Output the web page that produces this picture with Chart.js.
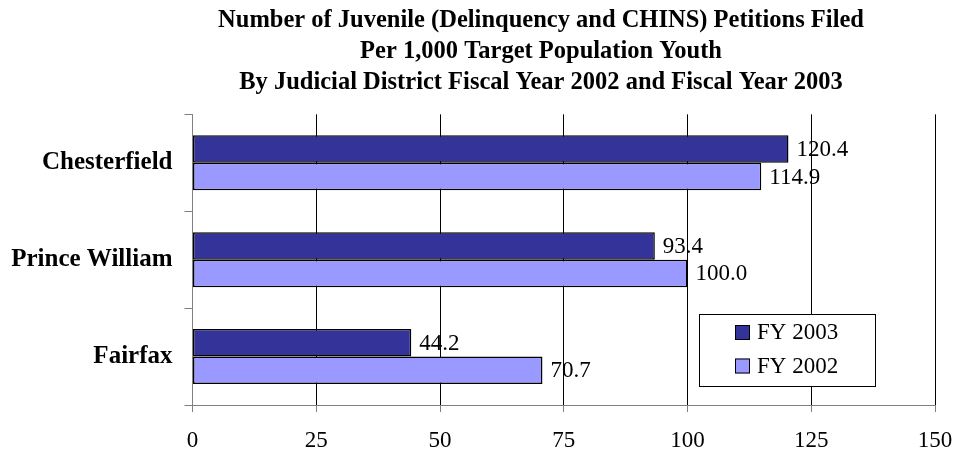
<!DOCTYPE html>
<html>
<head>
<meta charset="utf-8">
<script src="https://cdn.jsdelivr.net/npm/chart.js@4/dist/chart.umd.min.js"></script>
<style>
  body { margin: 0; background: #fff; }
  canvas { display: block; }
</style>
</head>
<body>
<canvas id="chartContainer" width="959" height="450"></canvas>
<script>
var districts = ["Chesterfield", "Prince William", "Fairfax"];
var fy2003 = [120.4, 93.4, 44.2];
var fy2002 = [114.9, 100.0, 70.7];
var seriesNames = ["FY 2003", "FY 2002"];
var titleLines = [
    "Number of Juvenile (Delinquency and CHINS) Petitions Filed",
    "Per 1,000 Target Population Youth",
    "By Judicial District Fiscal Year 2002 and Fiscal Year 2003"
];

var serif = "'Liberation Serif', 'Times New Roman', serif";
var barColors = ["#333399", "#9999FF"];

// the category axis is kept narrow so the title centres further right;
// widen its label clip box back out to the canvas edge
var wideCategoryLabels = {
    id: 'wideCategoryLabels',
    afterLayout: function(chart) {
        chart.scales.y.left = 0;
    }
};

// value printed just past the end of every bar
var valueLabels = {
    id: 'valueLabels',
    afterDatasetsDraw: function(chart) {
        var ctx = chart.ctx;
        ctx.save();
        ctx.font = "23px " + serif;
        ctx.fillStyle = "#000";
        ctx.textAlign = "left";
        ctx.textBaseline = "middle";
        chart.data.datasets.forEach(function(ds, i) {
            chart.getDatasetMeta(i).data.forEach(function(bar, j) {
                ctx.fillText(ds.data[j].toFixed(1), bar.x + 8, bar.y + 1);
            });
        });
        ctx.restore();
    }
};

// boxed legend sitting inside the plot, lower right
var boxLegend = {
    id: 'boxLegend',
    afterDraw: function(chart) {
        var ctx = chart.ctx;
        var area = chart.chartArea;
        var w = 176, h = 72;
        var x = area.right - 60 - w;
        var y = area.bottom - 19 - h;
        ctx.save();
        ctx.fillStyle = "#fff";
        ctx.fillRect(x, y, w, h);
        ctx.strokeStyle = "#000";
        ctx.lineWidth = 1;
        ctx.strokeRect(x + 0.5, y + 0.5, w, h);
        ctx.font = "23px " + serif;
        ctx.textBaseline = "middle";
        chart.data.datasets.forEach(function(ds, i) {
            var cy = y + 18 + i * 33.5;
            ctx.fillStyle = ds.backgroundColor;
            ctx.fillRect(x + 36, cy - 7, 15, 15);
            ctx.strokeStyle = "#000";
            ctx.strokeRect(x + 36.5, cy - 6.5, 14, 14);
            ctx.fillStyle = "#000";
            ctx.fillText(ds.label, x + 58, cy + 1);
        });
        ctx.restore();
    }
};

var chart = new Chart('chartContainer', {
    type: 'bar',
    data: {
        labels: districts,
        datasets: [{
            label: seriesNames[0],
            data: fy2003,
            backgroundColor: barColors[0]
        }, {
            label: seriesNames[1],
            data: fy2002,
            backgroundColor: barColors[1]
        }]
    },
    options: {
        indexAxis: 'y',
        responsive: false,
        animation: false,
        layout: {
            padding: { left: 147, right: 24, top: 0, bottom: 0 }
        },
        datasets: {
            bar: {
                borderColor: "#000",
                borderWidth: 1.5,
                borderSkipped: false,
                categoryPercentage: 0.567,
                barPercentage: 1
            }
        },
        plugins: {
            legend: { display: false },
            tooltip: { enabled: false },
            title: {
                display: true,
                text: titleLines,
                color: "#000",
                font: { family: serif, size: 24.5, weight: 'bold', lineHeight: 1.27 },
                padding: { top: 5, bottom: 16 }
            }
        },
        scales: {
            x: {
                min: 0,
                max: 150,
                ticks: {
                    stepSize: 25,
                    color: "#000",
                    padding: 15,
                    font: { family: serif, size: 23 }
                },
                grid: {
                    color: "#000",
                    tickColor: "#808080",
                    tickLength: 7
                },
                border: { color: "#808080" },
                afterFit: function(scale) {
                    scale.height = 45;
                    scale.paddingLeft = 0;
                    scale.paddingRight = 0;
                }
            },
            y: {
                ticks: {
                    color: "#000",
                    padding: 12,
                    font: { family: serif, size: 25, weight: 'bold' }
                },
                grid: {
                    drawOnChartArea: false,
                    color: "#808080",
                    tickLength: 8
                },
                border: { color: "#808080" },
                afterFit: function(scale) { scale.width = 45.5; }
            }
        }
    },
    plugins: [wideCategoryLabels, valueLabels, boxLegend]
});
</script>
</body>
</html>
